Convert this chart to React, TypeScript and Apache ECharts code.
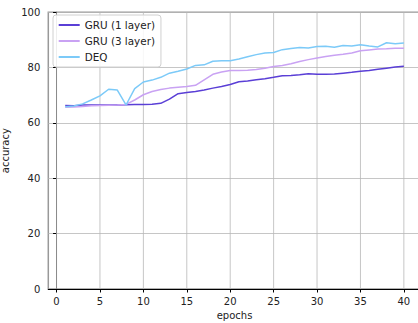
import React, { useEffect, useRef } from "react";
import * as echarts from "echarts";

const epochs = Array.from({ length: 40 }, (_, i) => i + 1);
const gru1 = [66.3,66.2,66.5,66.5,66.5,66.5,66.5,66.6,66.7,66.7,66.8,67.1,68.6,70.6,71.0,71.4,71.9,72.6,73.2,73.9,74.9,75.2,75.6,76.0,76.5,77.1,77.2,77.4,77.8,77.6,77.6,77.7,78.0,78.3,78.7,79.0,79.4,79.8,80.2,80.5];
const gru3 = [65.7,65.8,66.0,66.2,66.3,66.4,66.5,66.7,68.3,70.2,71.4,72.1,72.6,72.9,73.2,73.6,75.6,77.6,78.4,79.0,79.0,79.1,79.3,79.8,80.4,80.8,81.4,82.2,82.9,83.5,84.0,84.5,84.8,85.3,86.1,86.4,86.7,86.8,87.0,87.0];
const deq = [65.9,66.1,66.9,68.3,69.8,72.2,71.9,66.5,72.4,74.8,75.5,76.5,78.0,78.7,79.5,80.8,81.0,82.3,82.5,82.5,83.1,83.9,84.7,85.3,85.5,86.5,86.9,87.3,87.1,87.6,87.7,87.4,88.0,87.8,88.3,87.8,87.5,89.0,88.6,88.9];
const xTicks = [0, 5, 10, 15, 20, 25, 30, 35, 40];
const seriesNames = ["GRU (1 layer)", "GRU (3 layer)", "DEQ"];
const colors = ["#5a3fd6", "#c9a2f3", "#7ccaf8"];

const FONT = "DejaVu Sans";

export default function App() {
  const ref = useRef<HTMLDivElement>(null);
  useEffect(() => {
    if (!ref.current) return;
    const chart = echarts.init(ref.current, null, { renderer: "svg" });
    const values = [gru1, gru3, deq];
    chart.setOption({
      animation: false,
      grid: {
        left: 48.3,
        top: 12.3,
        width: 372.5,
        height: 276.7,
        containLabel: false,
        outerBoundsMode: "none",
        show: true,
        borderColor: "#999999",
        borderWidth: 1.5,
        backgroundColor: "transparent",
      },
      legend: {
        orient: "vertical",
        left: 53,
        top: 15,
        data: seriesNames,
        itemWidth: 21,
        itemHeight: 10,
        itemGap: 6,
        padding: [5, 6, 5, 4.7],
        itemStyle: { opacity: 0 },
        backgroundColor: "rgba(255,255,255,0.85)",
        borderColor: "#d0d0d0",
        borderWidth: 1,
        borderRadius: 3,
        textStyle: { fontFamily: FONT, fontSize: 10.4, color: "#222" },
      },
      xAxis: {
        type: "value",
        min: -0.95,
        max: 41.95,
        name: "epochs",
        nameLocation: "middle",
        nameGap: 21,
        nameTextStyle: { fontFamily: FONT, fontSize: 10, color: "#222" },
        axisLine: { show: true, onZero: false, lineStyle: { color: "#000", width: 1 } },
        axisTick: { show: true, length: 3.5, customValues: xTicks, lineStyle: { color: "#000" } },
        axisLabel: { customValues: xTicks, margin: 7, fontFamily: FONT, fontSize: 10, color: "#222" },
        splitLine: { show: false },
      },
      yAxis: {
        type: "value",
        min: 0,
        max: 100,
        interval: 20,
        name: "accuracy",
        nameLocation: "middle",
        nameGap: 30,
        nameTextStyle: { fontFamily: FONT, fontSize: 10, color: "#222" },
        axisLine: { show: true, lineStyle: { color: "#000", width: 1 } },
        axisTick: { show: true, length: 3.5, lineStyle: { color: "#000" } },
        axisLabel: { margin: 8, fontFamily: FONT, fontSize: 10, color: "#222" },
        splitLine: { show: true, lineStyle: { color: "#b8b8b8", width: 0.8 } },
      },
      series: [
        {
          type: "custom",
          name: "__vgrid",
          silent: true,
          z: 1,
          data: xTicks.map((v) => [v]),
          encode: { x: 0 },
          renderItem: (params: any, api: any) => {
            const x = api.value(0);
            const p0 = api.coord([x, 0]);
            const p1 = api.coord([x, 100]);
            return {
              type: "line",
              shape: { x1: p0[0], y1: p0[1], x2: p1[0], y2: p1[1] },
              style: { stroke: "#b8b8b8", lineWidth: 0.8 },
              silent: true,
            };
          },
        },
        ...seriesNames.map((name, i) => ({
          type: "line",
          name,
          data: epochs.map((e, j) => [e, values[i][j]]),
          symbol: "none",
          showSymbol: false,
          z: 3,
          lineStyle: { color: colors[i], width: 1.5 },
          itemStyle: { color: colors[i] },
        })),
      ],
    });
    return () => chart.dispose();
  }, []);
  return (
    <div
      ref={ref}
      style={{ position: "fixed", left: 0, top: 0, width: 418, height: 323, background: "#fff" }}
    />
  );
}
